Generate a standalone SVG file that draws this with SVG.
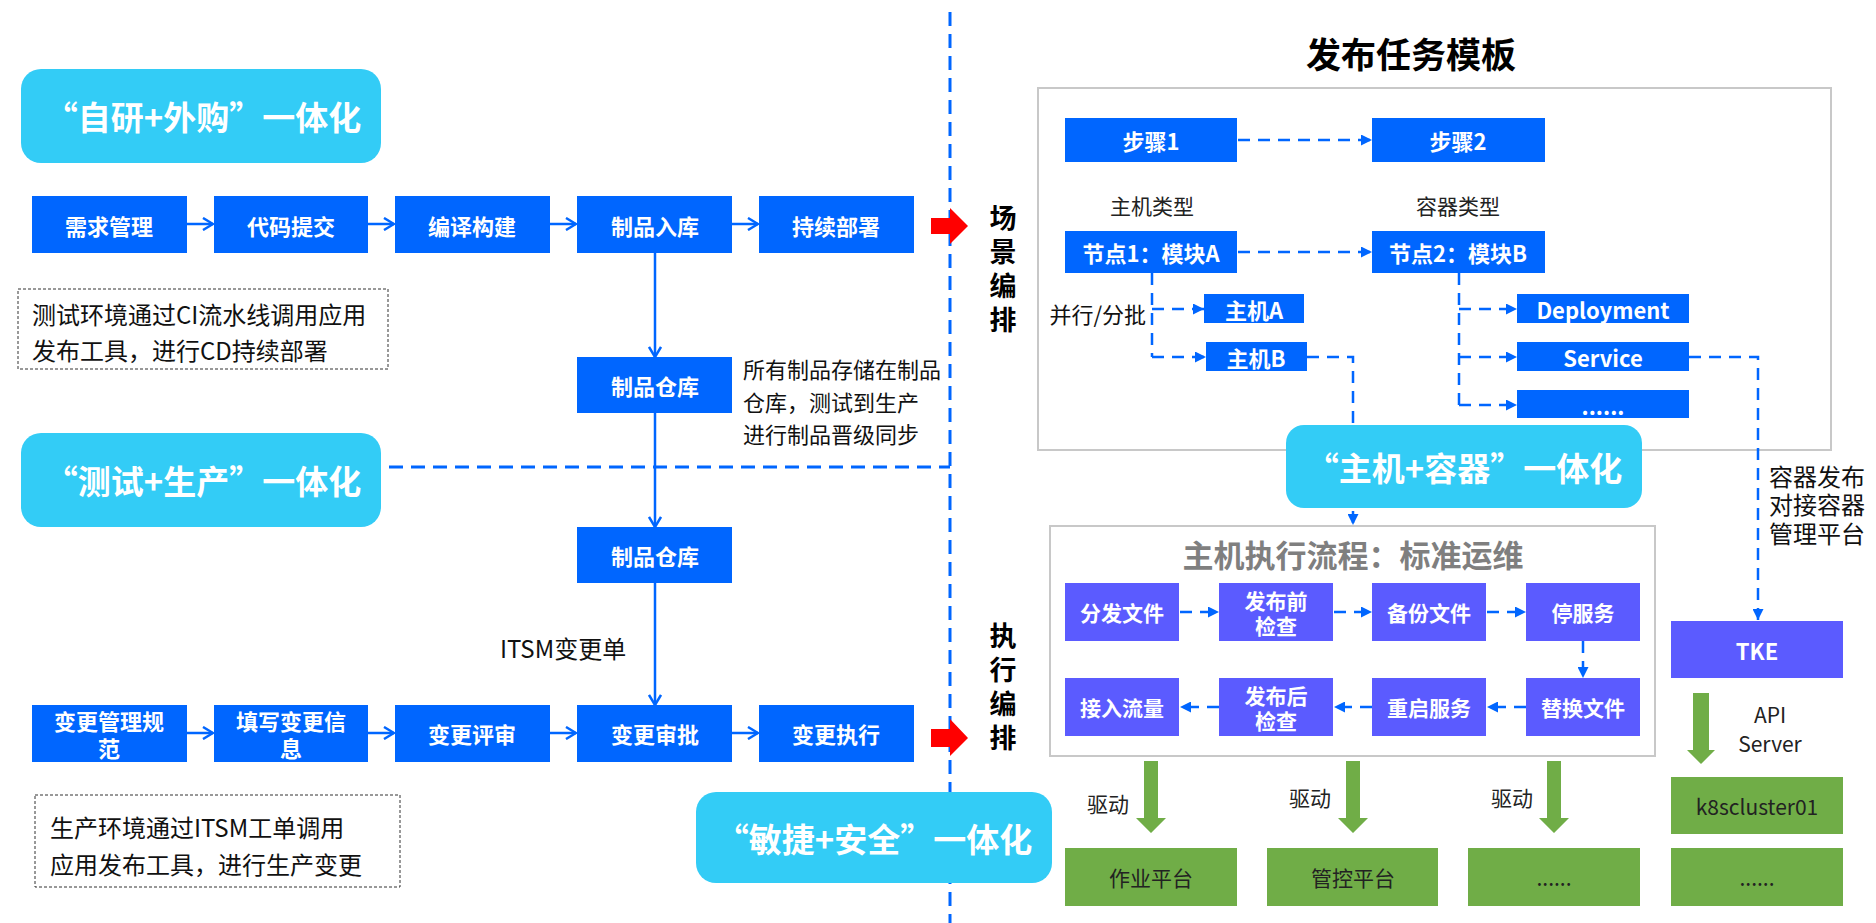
<svg xmlns="http://www.w3.org/2000/svg" width="1876" height="923" viewBox="0 0 1876 923">
<style>
text{font-family:"Noto Sans CJK SC","Liberation Sans",sans-serif;}
.blue{fill:#0066FF;}
.cyan{fill:#33CCF6;}
.purple{fill:#5B5BFF;}
.green{fill:#70AD47;}
.gbox{fill:#fff;stroke:#C8C8C8;stroke-width:2;}
.note{fill:#fff;stroke:#333;stroke-width:1;stroke-dasharray:3 2;}
.wt{fill:#fff;font-weight:bold;font-size:22px;text-anchor:middle;dominant-baseline:central;}
.pt{fill:#fff;font-weight:bold;font-size:21px;text-anchor:middle;dominant-baseline:central;}
.ct{fill:#fff;font-weight:bold;font-size:33px;text-anchor:middle;dominant-baseline:central;}
.bt{fill:#111;font-size:22px;dominant-baseline:central;}
.nt{fill:#111;font-size:24px;dominant-baseline:central;}
.dt{fill:#222;font-size:21px;text-anchor:middle;dominant-baseline:central;}
.vt{fill:#000;font-weight:bold;font-size:27px;writing-mode:tb;letter-spacing:7px;}
.solid{stroke:#0066FF;stroke-width:2.5;fill:none;}
.dash{stroke:#0066FF;stroke-width:2.5;fill:none;stroke-dasharray:12 8;}
.sdash{stroke:#0066FF;stroke-width:3;fill:none;stroke-dasharray:14 8;}
.red{fill:#FF0000;}
</style>
<defs>
<marker id="chev" viewBox="0 0 12 14" refX="11" refY="7" markerWidth="12" markerHeight="14" markerUnits="userSpaceOnUse" orient="auto">
<path d="M1,1 L11,7 L1,13" fill="none" stroke="#0066FF" stroke-width="2.5"/>
</marker>
<marker id="tri" viewBox="0 0 11 11" refX="11" refY="5.5" markerWidth="11" markerHeight="11" markerUnits="userSpaceOnUse" orient="auto">
<path d="M0,0 L11,5.5 L0,11 z" fill="#0066FF"/>
</marker>
</defs>
<rect width="1876" height="923" fill="#fff"/>

<!-- separators -->
<g id="separators">
<line x1="950" y1="12" x2="950" y2="923" class="sdash"/>
<line x1="389" y1="467" x2="950" y2="467" class="sdash"/>
</g>

<!-- outer containers -->
<g id="template-frame">
<rect x="1038" y="88" width="793" height="362" class="gbox"/>
<text x="1411" y="52" font-size="35" font-weight="bold" text-anchor="middle" dominant-baseline="central" fill="#000">发布任务模板</text>
</g>
<g id="host-exec-frame">
<rect x="1050" y="526" width="605" height="230" class="gbox"/>
<text x="1353" y="553" font-size="31" font-weight="bold" text-anchor="middle" dominant-baseline="central" fill="#7F7F7F">主机执行流程：标准运维</text>
</g>

<!-- connectors -->
<g id="connectors">
<line x1="187" y1="224" x2="213" y2="224" class="solid" marker-end="url(#chev)"/>
<line x1="368" y1="224" x2="394" y2="224" class="solid" marker-end="url(#chev)"/>
<line x1="550" y1="224" x2="576" y2="224" class="solid" marker-end="url(#chev)"/>
<line x1="732" y1="224" x2="758" y2="224" class="solid" marker-end="url(#chev)"/>
<line x1="187" y1="733" x2="213" y2="733" class="solid" marker-end="url(#chev)"/>
<line x1="368" y1="733" x2="394" y2="733" class="solid" marker-end="url(#chev)"/>
<line x1="550" y1="733" x2="576" y2="733" class="solid" marker-end="url(#chev)"/>
<line x1="732" y1="733" x2="758" y2="733" class="solid" marker-end="url(#chev)"/>
<line x1="655" y1="253" x2="655" y2="357" class="solid" marker-end="url(#chev)"/>
<line x1="655" y1="413" x2="655" y2="527" class="solid" marker-end="url(#chev)"/>
<line x1="655" y1="583" x2="655" y2="705" class="solid" marker-end="url(#chev)"/>

<line x1="1238" y1="140" x2="1372" y2="140" class="dash" marker-end="url(#tri)"/>
<line x1="1238" y1="252" x2="1372" y2="252" class="dash" marker-end="url(#tri)"/>
<path d="M1152,273 L1152,357" class="dash"/>
<line x1="1152" y1="309" x2="1204" y2="309" class="dash" marker-end="url(#tri)"/>
<line x1="1152" y1="357" x2="1206" y2="357" class="dash" marker-end="url(#tri)"/>
<path d="M1307,357 L1353,357 L1353,525" class="dash" marker-end="url(#tri)"/>
<path d="M1459,273 L1459,405" class="dash"/>
<line x1="1459" y1="309" x2="1517" y2="309" class="dash" marker-end="url(#tri)"/>
<line x1="1459" y1="357" x2="1517" y2="357" class="dash" marker-end="url(#tri)"/>
<line x1="1459" y1="405" x2="1517" y2="405" class="dash" marker-end="url(#tri)"/>
<path d="M1689,357 L1758,357 L1758,620" class="dash" marker-end="url(#tri)"/>

<line x1="1180" y1="612" x2="1219" y2="612" class="dash" marker-end="url(#tri)"/>
<line x1="1334" y1="612" x2="1372" y2="612" class="dash" marker-end="url(#tri)"/>
<line x1="1487" y1="612" x2="1526" y2="612" class="dash" marker-end="url(#tri)"/>
<line x1="1583" y1="641" x2="1583" y2="678" class="dash" marker-end="url(#tri)"/>
<line x1="1526" y1="707" x2="1487" y2="707" class="dash" marker-end="url(#tri)"/>
<line x1="1372" y1="707" x2="1334" y2="707" class="dash" marker-end="url(#tri)"/>
<line x1="1219" y1="707" x2="1180" y2="707" class="dash" marker-end="url(#tri)"/>

<polygon class="red" points="931,218 950,218 950,208 968,226 950,244 950,234 931,234"/>
<polygon class="red" points="931,729 950,729 950,719 968,738 950,756 950,747 931,747"/>

<polygon class="green" points="1693,693 1709,693 1709,750 1715,750 1701,764 1687,750 1693,750"/>
<polygon class="green" points="1144,761 1158,761 1158,818 1166,818 1151,833 1136,818 1144,818"/>
<polygon class="green" points="1346,761 1360,761 1360,818 1368,818 1353,833 1338,818 1346,818"/>
<polygon class="green" points="1547,761 1561,761 1561,818 1569,818 1554,833 1539,818 1547,818"/>
</g>

<!-- left column -->
<g id="c-zixing"><rect x="21" y="69" width="360" height="94" rx="20" class="cyan"/><text x="203" y="116" class="ct">“自研+外购”一体化</text></g>
<g id="c-ceshi"><rect x="21" y="433" width="360" height="94" rx="20" class="cyan"/><text x="203" y="480" class="ct">“测试+生产”一体化</text></g>
<g id="c-minjie"><rect x="696" y="792" width="356" height="91" rx="20" class="cyan"/><text x="874" y="838" class="ct">“敏捷+安全”一体化</text></g>

<g id="n-xuqiu"><rect x="32" y="196" width="155" height="57" class="blue"/><text x="109" y="225" class="wt">需求管理</text></g>
<g id="n-daima"><rect x="214" y="196" width="154" height="57" class="blue"/><text x="291" y="225" class="wt">代码提交</text></g>
<g id="n-bianyi"><rect x="395" y="196" width="155" height="57" class="blue"/><text x="472" y="225" class="wt">编译构建</text></g>
<g id="n-rukou"><rect x="577" y="196" width="155" height="57" class="blue"/><text x="655" y="225" class="wt">制品入库</text></g>
<g id="n-bushu"><rect x="759" y="196" width="155" height="57" class="blue"/><text x="836" y="225" class="wt">持续部署</text></g>

<g id="note-ci"><rect x="18" y="289" width="370" height="80" class="note"/>
<text x="32" y="313" class="nt">测试环境通过CI流水线调用应用</text>
<text x="32" y="349" class="nt">发布工具，进行CD持续部署</text></g>

<g id="n-cangku1"><rect x="577" y="357" width="155" height="56" class="blue"/><text x="655" y="385" class="wt">制品仓库</text></g>
<g id="note-cangku">
<text x="743" y="368" class="bt">所有制品存储在制品</text>
<text x="743" y="401" class="bt">仓库，测试到生产</text>
<text x="743" y="433" class="bt">进行制品晋级同步</text></g>
<g id="n-cangku2"><rect x="577" y="527" width="155" height="56" class="blue"/><text x="655" y="555" class="wt">制品仓库</text></g>
<g id="lbl-itsm"><text x="500" y="647" class="nt">ITSM变更单</text></g>

<g id="n-guifan"><rect x="32" y="705" width="155" height="57" class="blue"/><text x="109" y="720" class="wt">变更管理规</text><text x="109" y="747" class="wt">范</text></g>
<g id="n-tianxie"><rect x="214" y="705" width="154" height="57" class="blue"/><text x="291" y="720" class="wt">填写变更信</text><text x="291" y="747" class="wt">息</text></g>
<g id="n-pingshen"><rect x="395" y="705" width="155" height="57" class="blue"/><text x="472" y="733" class="wt">变更评审</text></g>
<g id="n-shenpi"><rect x="577" y="705" width="155" height="57" class="blue"/><text x="655" y="733" class="wt">变更审批</text></g>
<g id="n-zhixing"><rect x="759" y="705" width="155" height="57" class="blue"/><text x="836" y="733" class="wt">变更执行</text></g>

<g id="note-itsm"><rect x="35" y="795" width="365" height="92" class="note"/>
<text x="50" y="826" class="nt">生产环境通过ITSM工单调用</text>
<text x="50" y="863" class="nt">应用发布工具，进行生产变更</text></g>

<!-- vertical labels -->
<g id="lbl-changjing"><text x="1003" y="204" class="vt">场景编排</text></g>
<g id="lbl-zhixing"><text x="1003" y="622" class="vt">执行编排</text></g>

<!-- template -->
<g id="n-step1"><rect x="1065" y="118" width="172" height="44" class="blue"/><text x="1151" y="140" class="wt">步骤1</text></g>
<g id="n-step2"><rect x="1372" y="118" width="173" height="44" class="blue"/><text x="1458" y="140" class="wt">步骤2</text></g>
<g id="lbl-types"><text x="1152" y="205" class="dt" font-size="23">主机类型</text><text x="1458" y="205" class="dt" font-size="23">容器类型</text></g>
<g id="n-node1"><rect x="1065" y="231" width="172" height="42" class="blue"/><text x="1151" y="252" class="wt">节点1：模块A</text></g>
<g id="n-node2"><rect x="1372" y="231" width="173" height="42" class="blue"/><text x="1458" y="252" class="wt">节点2：模块B</text></g>
<g id="lbl-bingxing"><text x="1146" y="313" class="bt" text-anchor="end">并行/分批</text></g>
<g id="n-hostA"><rect x="1204" y="294" width="100" height="29" class="blue"/><text x="1254" y="309" class="wt" font-size="20">主机A</text></g>
<g id="n-hostB"><rect x="1206" y="342" width="101" height="29" class="blue"/><text x="1256" y="357" class="wt" font-size="20">主机B</text></g>
<g id="n-deploy"><rect x="1517" y="294" width="172" height="29" class="blue"/><text x="1603" y="309" class="wt" font-size="20">Deployment</text></g>
<g id="n-service"><rect x="1517" y="342" width="172" height="29" class="blue"/><text x="1603" y="357" class="wt" font-size="20">Service</text></g>
<g id="n-more"><rect x="1517" y="390" width="172" height="28" class="blue"/><text x="1603" y="405" class="wt" font-size="18">......</text></g>

<g id="c-zhuji"><rect x="1286" y="425" width="356" height="83" rx="18" class="cyan"/><text x="1464" y="467" class="ct">“主机+容器”一体化</text></g>

<g id="lbl-rongqi">
<text x="1769" y="475" class="nt" font-size="23">容器发布</text>
<text x="1769" y="503" class="nt" font-size="23">对接容器</text>
<text x="1769" y="532" class="nt" font-size="23">管理平台</text></g>

<!-- host exec -->
<g id="n-fenfa"><rect x="1065" y="583" width="114" height="58" class="purple"/><text x="1122" y="612" class="pt">分发文件</text></g>
<g id="n-qianjc"><rect x="1219" y="583" width="114" height="58" class="purple"/><text x="1276" y="600" class="pt">发布前</text><text x="1276" y="625" class="pt">检查</text></g>
<g id="n-beifen"><rect x="1372" y="583" width="114" height="58" class="purple"/><text x="1429" y="612" class="pt">备份文件</text></g>
<g id="n-tingfw"><rect x="1526" y="583" width="114" height="58" class="purple"/><text x="1583" y="612" class="pt">停服务</text></g>
<g id="n-jieru"><rect x="1065" y="678" width="114" height="58" class="purple"/><text x="1122" y="707" class="pt">接入流量</text></g>
<g id="n-houjc"><rect x="1219" y="678" width="114" height="58" class="purple"/><text x="1276" y="695" class="pt">发布后</text><text x="1276" y="720" class="pt">检查</text></g>
<g id="n-chongqi"><rect x="1372" y="678" width="114" height="58" class="purple"/><text x="1429" y="707" class="pt">重启服务</text></g>
<g id="n-tihuan"><rect x="1526" y="678" width="114" height="58" class="purple"/><text x="1583" y="707" class="pt">替换文件</text></g>

<g id="n-tke"><rect x="1671" y="621" width="172" height="57" class="purple"/><text x="1757" y="650" class="wt">TKE</text></g>
<g id="lbl-api"><text x="1770" y="714" class="dt" font-size="26">API</text><text x="1770" y="743" class="dt" font-size="26">Server</text></g>
<g id="n-k8s"><rect x="1671" y="777" width="172" height="57" class="green"/><text x="1757" y="806" class="dt" font-size="22">k8scluster01</text></g>
<g id="n-k8smore"><rect x="1671" y="848" width="172" height="58" class="green"/><text x="1757" y="877" class="dt">......</text></g>

<g id="lbl-qudong">
<text x="1108" y="803" class="dt" font-size="24">驱动</text>
<text x="1310" y="797" class="dt" font-size="24">驱动</text>
<text x="1512" y="797" class="dt" font-size="24">驱动</text></g>
<g id="n-zuoye"><rect x="1065" y="848" width="172" height="58" class="green"/><text x="1151" y="877" class="dt" font-size="22">作业平台</text></g>
<g id="n-guankong"><rect x="1267" y="848" width="171" height="58" class="green"/><text x="1353" y="877" class="dt" font-size="22">管控平台</text></g>
<g id="n-gmore"><rect x="1468" y="848" width="172" height="58" class="green"/><text x="1554" y="877" class="dt">......</text></g>
</svg>
